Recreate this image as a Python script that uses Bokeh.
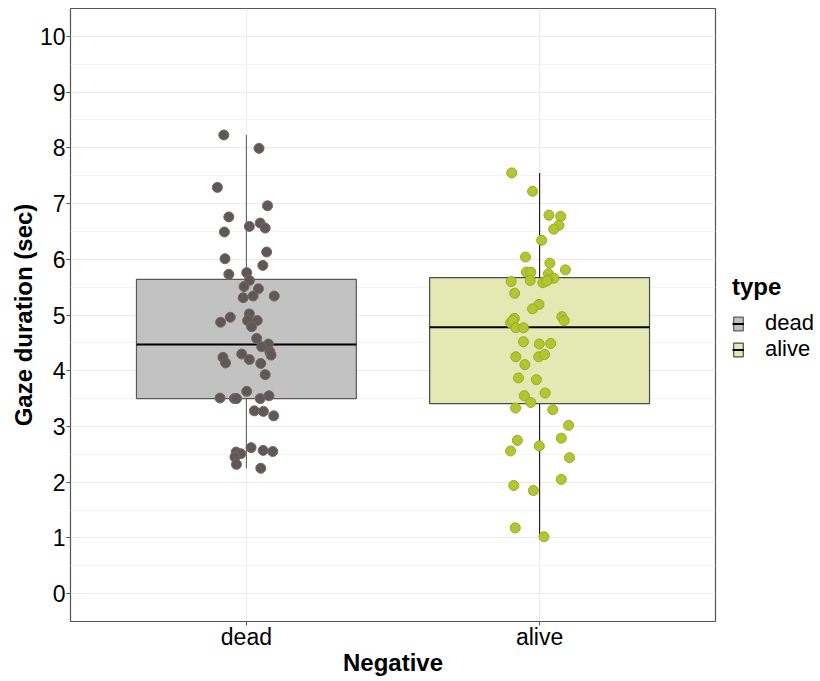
from bokeh.plotting import figure
from bokeh.layouts import row
from bokeh.models import FixedTicker, Legend, LegendItem, Range1d, Spacer
from bokeh.embed import file_html
from bokeh.resources import INLINE

# ---------------- data ----------------
categories = ["dead", "alive"]
cat_pos = [1, 2]
box_q1 = [3.50, 3.41]
box_median = [4.47, 4.78]
box_q3 = [5.64, 5.67]
whisker_low = [2.25, 1.02]
whisker_high = [8.23, 7.55]

dead_values = [8.23, 7.99, 7.29, 6.96, 6.76, 6.65, 6.59, 6.56, 6.49, 6.13,
               6.01, 5.89, 5.73, 5.76, 5.62, 5.51, 5.47, 5.31, 5.34, 5.34,
               4.96, 5.02, 4.87, 4.90, 4.90, 4.79, 4.58, 4.48, 4.43, 4.34,
               4.28, 4.30, 4.24, 4.14, 4.20, 4.13, 3.93, 3.63, 3.51, 3.50,
               3.50, 3.50, 3.55, 3.28, 3.27, 3.19, 2.62, 2.57, 2.55, 2.54,
               2.51, 2.45, 2.32, 2.25]
dead_jitter = [-0.077, 0.043, -0.099, 0.072, -0.060, 0.047, 0.010, 0.064, -0.075, 0.069,
               -0.073, 0.056, -0.060, 0.001, 0.010, -0.008, 0.041, -0.011, 0.023, 0.095,
               -0.055, 0.010, -0.088, 0.004, 0.037, 0.018, 0.035, 0.075, 0.052, 0.080,
               0.084, -0.016, -0.080, -0.071, 0.010, 0.049, 0.064, 0.001, -0.090, -0.041,
               -0.034, 0.047, 0.077, 0.027, 0.058, 0.093, 0.016, 0.057, 0.090, -0.035,
               -0.019, -0.039, -0.034, 0.049]

alive_values = [7.55, 7.22, 6.79, 6.77, 6.61, 6.54, 6.34, 6.04, 5.93, 5.81,
                5.77, 5.77, 5.74, 5.66, 5.63, 5.60, 5.62, 5.58, 5.61, 5.39,
                5.19, 5.11, 4.97, 4.90, 4.94, 4.86, 4.90, 4.77, 4.77, 4.52,
                4.48, 4.49, 4.25, 4.25, 4.29, 4.11, 3.87, 3.84, 3.55, 3.60,
                3.43, 3.33, 3.30, 3.02, 2.79, 2.75, 2.65, 2.56, 2.44, 2.05,
                1.94, 1.85, 1.18, 1.02]
alive_jitter = [-0.095, -0.024, 0.032, 0.072, 0.066, 0.048, 0.007, -0.048, 0.035, 0.088,
                -0.045, -0.030, 0.030, 0.049, 0.028, -0.097, -0.032, 0.011, 0.024, -0.085,
                -0.002, -0.024, 0.076, 0.084, -0.086, -0.099, -0.091, -0.081, -0.055, -0.055,
                -0.001, 0.038, -0.081, -0.003, 0.017, -0.050, -0.072, -0.011, -0.052, 0.019,
                -0.030, -0.082, 0.045, 0.099, 0.074, -0.076, -0.001, -0.099, 0.102, 0.074,
                -0.088, -0.021, -0.083, 0.015]

y_ticks = list(range(0, 11))
y_minor = [v + 0.5 for v in range(-1, 11)]

# ---------------- styles ----------------
box_width = 0.75
box_fill = ["#BFBFBF", "#E3E8AF"]
box_line = ["#5A5A5A", "#4A4A4A"]
whisker_color = ["#6A6A6A", "#222222"]
pt_fill = ["#5E5858", "#B5C62C"]
pt_line = ["#7A6560", "#93AD2C"]
FONT = "Liberation Sans"

p = figure(frame_width=645, frame_height=613,
           x_range=Range1d(0.4, 2.6), y_range=Range1d(-0.5, 10.5),
           output_backend="svg", toolbar_location=None,
           min_border_left=0, min_border_top=8, min_border_bottom=0, min_border_right=96,
           background_fill_color="white", border_fill_color="white")

p.outline_line_color = "#555555"
p.outline_line_width = 1.2

# grid
p.xaxis.ticker = FixedTicker(ticks=cat_pos)
p.xaxis.major_label_overrides = {pos: c for pos, c in zip(cat_pos, categories)}
p.yaxis.ticker = FixedTicker(ticks=y_ticks, minor_ticks=y_minor)
p.xgrid.grid_line_color = "#EBEBEB"
p.ygrid.grid_line_color = "#EBEBEB"
p.ygrid.minor_grid_line_color = "#F2F2F2"
p.xgrid.grid_line_width = 1
p.ygrid.grid_line_width = 1

for ax in (p.xaxis, p.yaxis):
    ax.axis_line_color = None
    ax.major_tick_line_color = "#555555"
    ax.major_tick_in = 0
    ax.major_tick_out = 4
    ax.minor_tick_line_color = None
    ax.major_label_text_font = FONT
    ax.major_label_text_font_size = "23px"
    ax.major_label_text_color = "black"
    ax.axis_label_text_font = FONT
    ax.axis_label_text_font_size = "24px"
    ax.axis_label_text_font_style = "bold"
    ax.axis_label_text_color = "black"

p.yaxis.axis_label = "Gaze duration (sec)"
p.xaxis.axis_label = "Negative"
p.yaxis.major_label_standoff = 1
p.yaxis.axis_label_standoff = 0
p.xaxis.major_label_standoff = -2
p.xaxis.axis_label_standoff = -4

# whiskers
p.segment(x0=cat_pos, y0=box_q3, x1=cat_pos, y1=whisker_high, line_color=whisker_color, line_width=1.2)
p.segment(x0=cat_pos, y0=whisker_low, x1=cat_pos, y1=box_q1, line_color=whisker_color, line_width=1.2)

# boxes + medians (one renderer each per category, used by the legend)
legend_items = []
for i in range(len(categories)):
    rb = p.vbar(x=[cat_pos[i]], width=box_width, bottom=[box_q1[i]], top=[box_q3[i]],
                fill_color=box_fill[i], fill_alpha=0.95, line_color=box_line[i], line_width=1.2)
    rm = p.segment(x0=[cat_pos[i] - box_width / 2], y0=[box_median[i]],
                   x1=[cat_pos[i] + box_width / 2], y1=[box_median[i]],
                   line_color="black", line_width=2)
    legend_items.append(LegendItem(label=categories[i], renderers=[rb, rm]))

# points
p.scatter(x=[cat_pos[0] + j for j in dead_jitter], y=dead_values, size=10,
          fill_color=pt_fill[0], line_color=pt_line[0], line_width=1)
p.scatter(x=[cat_pos[1] + j for j in alive_jitter], y=alive_values, size=10,
          fill_color=pt_fill[1], line_color=pt_line[1], line_width=1)

legend = Legend(items=legend_items, title="type", location=(17, 259))
legend.title_text_font = FONT
legend.title_text_font_size = "24px"
legend.title_text_font_style = "bold"
legend.title_text_color = "black"
legend.title_standoff = 9
legend.label_text_font = FONT
legend.label_text_font_size = "22px"
legend.label_text_color = "black"
legend.label_height = 20
legend.glyph_width = 12
legend.glyph_height = 17
legend.spacing = 0
legend.label_standoff = 21
legend.margin = 0
legend.padding = 0
legend.border_line_color = None
legend.background_fill_alpha = 0
p.add_layout(legend, "right")

layout = row(Spacer(width=6, height=10), p)

open("out.html", "w").write(file_html(layout, INLINE))
